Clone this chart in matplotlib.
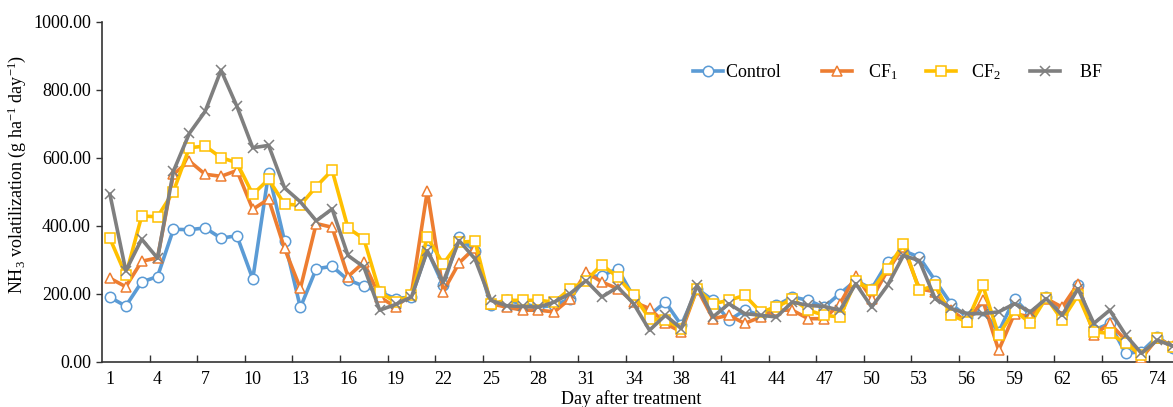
import numpy as np
import matplotlib
matplotlib.use("Agg")
import matplotlib.pyplot as plt

plt.rcParams['font.family'] = ['Liberation Serif', 'DejaVu Serif']
plt.rcParams['mathtext.fontset'] = 'custom'
plt.rcParams['mathtext.rm'] = 'Liberation Serif'
plt.rcParams['mathtext.it'] = 'Liberation Serif:italic'

days = list(range(1, 35)) + [35, 36] + list(range(38, 66)) + [68, 71, 74, 77]

control = [189, 163, 234, 250, 389, 388, 393, 363, 370, 243, 555, 355, 159, 273, 280, 240, 222, 204, 185, 190,
           327, 224, 365, 326, 165, 180, 170, 160, 165, 185, 248, 253, 273, 190, 136, 175, 107, 214, 180, 121,
           151, 136, 165, 190, 180, 160, 200, 238, 214, 292, 326, 307, 238, 170, 131, 151, 87, 185, 136, 190,
           141, 224, 92, 112, 24, 29, 73, 40]
cf1 = [245, 220, 295, 305, 551, 590, 551, 545, 562, 448, 478, 333, 215, 406, 395, 250, 292, 190, 160, 200,
       502, 206, 290, 335, 170, 160, 151, 151, 146, 185, 263, 234, 214, 175, 156, 112, 87, 214, 126, 136,
       112, 131, 151, 151, 126, 126, 170, 253, 185, 268, 336, 214, 205, 151, 117, 180, 33, 141, 131, 185,
       160, 229, 78, 112, 63, 10, 68, 45]
cf2 = [362, 254, 428, 426, 500, 629, 634, 600, 585, 492, 536, 463, 460, 515, 563, 393, 361, 204, 175, 195,
       366, 287, 351, 354, 170, 180, 180, 180, 175, 214, 238, 285, 248, 195, 126, 122, 97, 214, 170, 180,
       195, 146, 160, 185, 151, 136, 131, 238, 209, 273, 346, 209, 224, 136, 117, 224, 78, 151, 112, 188,
       122, 195, 87, 83, 53, 19, 68, 42]
bf = [492, 267, 360, 304, 560, 671, 736, 857, 751, 629, 636, 511, 470, 414, 449, 312, 278, 151, 168, 190,
      326, 234, 356, 302, 180, 164, 162, 160, 175, 200, 238, 190, 219, 170, 92, 136, 97, 224, 131, 170,
      141, 136, 131, 175, 165, 162, 151, 229, 160, 224, 312, 297, 185, 156, 141, 141, 146, 170, 146, 185,
      136, 214, 112, 151, 78, 24, 63, 45]

series_names = ["Control   ", "   CF$_1$", "   CF$_2$", "    BF"]
series_data = [control, cf1, cf2, bf]
colors = ["#5B9BD5", "#ED7D31", "#FFC000", "#7F7F7F"]
markers = ["o", "^", "s", "x"]
msizes = [7.5, 7.5, 7.5, 7.5]

W, H = 1173, 407
fig = plt.figure(figsize=(W / 100, H / 100), dpi=100)
n = len(days)
cat_px = 15.87
left_px, bottom_px, top_px = 102, 361.5, 21.7
xmax = 68.5
ax = fig.add_axes([left_px / W, (H - bottom_px) / H, (xmax + 0.5) * cat_px / W, (bottom_px - top_px) / H])

x = np.arange(n)
for name, vals, c, m, ms in zip(series_names, series_data, colors, markers, msizes):
    ax.plot(x, vals, color=c, lw=2.6, marker=m, ms=ms, mfc='white' if m != 'x' else c,
            mec=c, mew=1.1, label=name, zorder=3)

ax.set_xlim(-0.5, xmax)
ax.set_ylim(0, 1000)
ax.set_yticks(np.arange(0, 1001, 200))
ax.set_yticklabels([f"{v:.2f}" for v in np.arange(0, 1001, 200)])
ax.set_xticks(np.arange(2.5, n, 3))
ax.set_xticklabels([])
ax.set_xticks(np.arange(0, n - 1, 3), minor=True)
ax.set_xticklabels([str(days[i]) for i in range(0, n - 1, 3)], minor=True)
ax.tick_params(axis='x', which='major', direction='in', length=5, width=1, color='#333333')
ax.tick_params(axis='x', which='minor', length=0, pad=7, labelsize=13)
ax.tick_params(axis='y', direction='out', length=4, width=1, labelsize=13, pad=4, color='#333333')
for s in ['top', 'right']:
    ax.spines[s].set_visible(False)
for s in ['left', 'bottom']:
    ax.spines[s].set_color('#333333')
    ax.spines[s].set_linewidth(1.2)

fig.text(17 / W, 1 - 174 / H, "NH$_3$ volatilization (g ha$^{-1}$ day$^{-1}$)", rotation=90,
         ha='center', va='center', fontsize=13)
fig.text(631 / W, 1 - 399 / H, "Day after treatment", ha='center', va='center', fontsize=13)

leg = fig.legend(loc='center left', bbox_to_anchor=(693 / W, 1 - 72 / H), ncol=4, frameon=False,
                 fontsize=13, handlelength=1.66, handletextpad=0.15, columnspacing=1.55,
                 borderaxespad=0, borderpad=0)

fig.savefig("out.png", dpi=100)
